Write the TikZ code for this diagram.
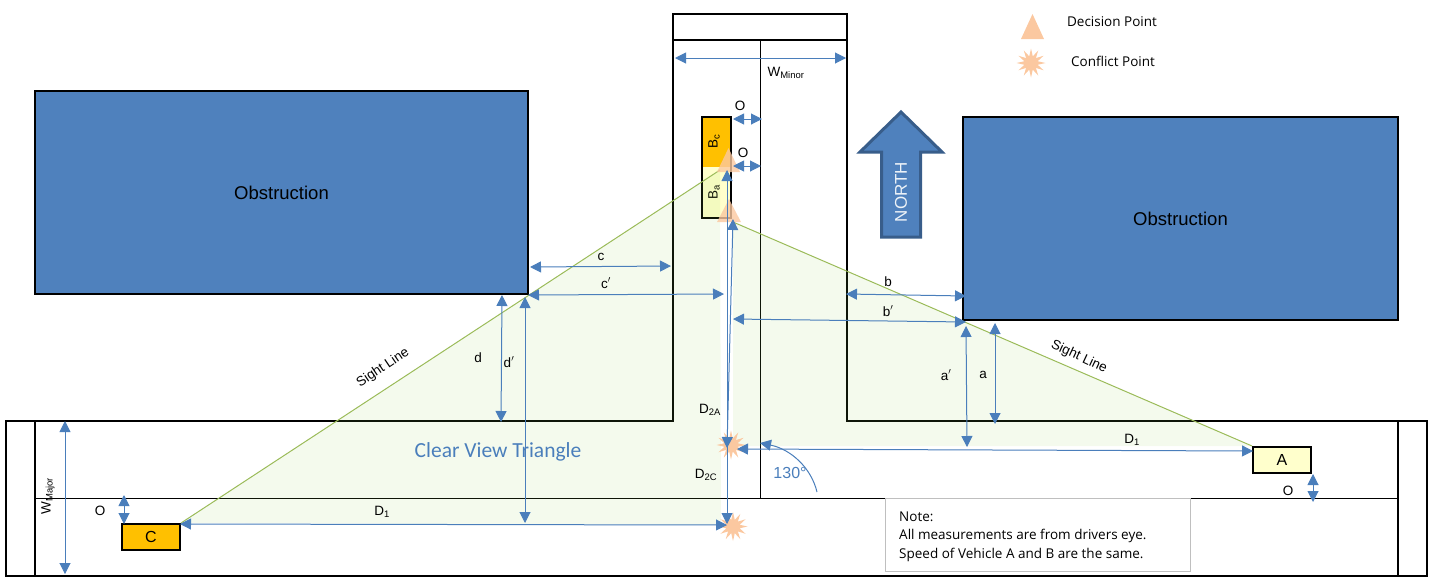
\documentclass[tikz,border=0pt]{standalone}
\usepackage{fontspec}
\setmainfont{Carlito}
\newfontfamily\legendfont{Open Sans}
\newfontfamily\arialfont{Liberation Sans}
\usetikzlibrary{arrows.meta,shapes.geometric}
\definecolor{obstblue}{HTML}{4F81BD}
\definecolor{obstedge}{HTML}{385D8A}
\definecolor{dimblue}{HTML}{4A7EBB}
\definecolor{sightgreen}{HTML}{9BBB59}
\definecolor{viewgreen}{HTML}{92D050}
\definecolor{peach}{HTML}{FBC8A0}
\definecolor{carorange}{HTML}{FFC000}
\definecolor{caryellow}{HTML}{FFFFCC}
\definecolor{notegray}{HTML}{BFBFBF}

\begin{document}
\begin{tikzpicture}[x=1pt,y=-1pt,
                    dim/.style={draw=dimblue,line width=1pt,{Triangle[length=11pt,width=11pt]}-{Triangle[length=11pt,width=11pt]}},
                    wall/.style={draw=black,line width=2pt},
                    centerline/.style={draw=black,line width=1pt}]
  \tikzstyle{obstruction}=[draw=black,line width=2pt,fill=obstblue,inner sep=0pt,font=\arialfont\fontsize{18.5}{20}\selectfont]
  \tikzstyle{vehicle}=[draw=black,line width=2pt,inner sep=0pt,minimum width=58pt,minimum height=26pt,font=\arialfont\fontsize{16}{18}\selectfont]
  \tikzstyle{busbox}=[inner sep=0pt,minimum width=29pt]
  \tikzstyle{lbl}=[inner sep=0pt,font=\arialfont\fontsize{13.5}{15}\selectfont]
  \tikzstyle{conflict}=[star,star points=12,star point ratio=2.1,fill=peach,inner sep=0pt,minimum size=29pt]
  \tikzstyle{decision}=[fill=peach,opacity=.8]
  \tikzstyle{sight}=[draw=sightgreen,line width=1pt]
  \useasboundingbox (0,0) rectangle (1429,582);

  % roads
  \draw[wall] (6,421) -- (673,421) -- (673,14) -- (847,14) -- (847,421) -- (1427,421)
              -- (1427,576) -- (6,576) -- cycle;
  \draw[wall] (673,40) -- (847,40);
  \draw[wall] (35,421) -- (35,576);
  \draw[wall] (1398,421) -- (1398,576);
  \draw[centerline] (760,40) -- (760,498);
  \draw[centerline] (35,498) -- (1398,498);

  \node[obstruction,minimum width=493pt,minimum height=203pt] (OL) at (281.5,192.5) {Obstruction}; 
  \node[obstruction,minimum width=435pt,minimum height=203pt] (OR) at (1180.5,218.5) {Obstruction}; 

  % bus
  \node[busbox,fill=carorange,minimum height=50pt] (Bc) at (716.5,142) {};
  \node[busbox,fill=caryellow,minimum height=51pt] (Ba) at (716.5,192.5) {};
  \draw[wall] (Bc.north west) rectangle (Ba.south east);
  \node[lbl,rotate=90] (BcText) at (714,141) {B\textsubscript{c}};
  \node[lbl,rotate=90] (BaText) at (714,192) {B\textsubscript{a}};

  \node[vehicle,fill=carorange] (C) at (151,537) {C};
  \node[vehicle,fill=caryellow] (A) at (1282,460) {A};

  % clear view triangle
  \fill[viewgreen,opacity=.1] (C.north east) -- (720,170) -- (721,525) -- cycle;
  \fill[viewgreen,opacity=.1] (733,222) -- (A.north west) -- (733,446) -- cycle;
  \draw[sight] (C.north east) -- (720,170);
  \draw[sight] (733,222) -- (A.north west);

  % decision and conflict points
  \fill[decision] (717,172) -- (728.5,148) -- (740,172) -- cycle;
  \fill[decision] (717,222) -- (729,199) -- (741,222) -- cycle;
  \fill[decision,opacity=1] (1021,39) -- (1032.5,14) -- (1044,39) -- cycle;
  \node[conflict] (X1) at (731,445) {};
  \node[conflict] (X2) at (733,526.5) {};
  \node[conflict] (X3) at (1031,63) {};

  % free ends of the dimensions
  \coordinate (wm1) at (675,58);   \coordinate (wm2) at (846,58);
  \coordinate (o1a) at (733,119);  \coordinate (o1b) at (762,119);
  \coordinate (o2a) at (733,166);  \coordinate (o2b) at (761,166);
  \coordinate (c1) at (530,267);   \coordinate (c2) at (671,266);
  \coordinate (cp1) at (528,295);  \coordinate (cp2) at (724,294);
  \coordinate (d1) at (502,295);   \coordinate (d2) at (501,422);
  \coordinate (dp1) at (525,297);  \coordinate (dp2) at (525,523);
  \coordinate (b1) at (846,294);   \coordinate (b2) at (966,296);
  \coordinate (bp1) at (733,319);  \coordinate (bp2) at (966,322);
  \coordinate (ap1) at (966,326);  \coordinate (ap2) at (967,447);
  \coordinate (a1) at (995,323);   \coordinate (a2) at (995,424);
  \coordinate (dr1) at (737,449);  \coordinate (dr2) at (1253,451);
  \coordinate (dl1) at (180,524);  \coordinate (dl2) at (727,525);
  \coordinate (da1) at (733,219);  \coordinate (da2) at (727,448);
  \coordinate (dc1) at (727,170);  \coordinate (dc2) at (727,524);
  \coordinate (oa1) at (1313,474); \coordinate (oa2) at (1313,502);
  \coordinate (oc1) at (124,495);  \coordinate (oc2) at (124,524);
  \coordinate (wj1) at (65,421);   \coordinate (wj2) at (65,574);
  \coordinate (ang1) at (817,492); \coordinate (ang2) at (760,443);

  \path (wm1) edge[dim] (wm2)
        (o1a) edge[dim] (o1b)
        (o2a) edge[dim] (o2b)
        (c1) edge[dim] (c2)
        (cp1) edge[dim] (cp2)
        (d1) edge[dim] (d2)
        (dp1) edge[dim] (dp2)
        (b1) edge[dim] (b2)
        (bp1) edge[dim] (bp2)
        (ap1) edge[dim] (ap2)
        (a1) edge[dim] (a2)
        (dr1) edge[dim] (dr2)
        (dl1) edge[dim] (dl2)
        (da1) edge[dim] (da2)
        (dc1) edge[dim] (dc2)
        (oa1) edge[dim] (oa2)
        (oc1) edge[dim] (oc2)
        (wj1) edge[dim] (wj2);
  \draw[draw=dimblue,line width=1pt,-{Triangle[length=11pt,width=11pt]}] (ang1) .. controls (811,467) and (790,449) .. (ang2);

  % labels
  \node[lbl] (LWm) at (786,73) {W\textsubscript{Minor}};
  \node[lbl] (LO1) at (740,106) {O};
  \node[lbl] (LO2) at (743,153) {O};
  \node[lbl] (Lc) at (601,257) {c};
  \node[lbl] (Lcp) at (606,283) {c$'$};
  \node[lbl] (Lb) at (888,282) {b};
  \node[lbl] (Lbp) at (888,311) {b$'$};
  \node[lbl] (Lap) at (946,375) {a$'$};
  \node[lbl] (La) at (983,375) {a};
  \node[lbl] (Ld) at (478,358) {d};
  \node[lbl] (Ldp) at (509,362) {d$'$};
  \node[lbl] (Lda) at (710,410) {D\textsubscript{2A}};
  \node[lbl] (Ldc) at (706,475) {D\textsubscript{2C}};
  \node[lbl] (Ldr) at (1132,440) {D\textsubscript{1}};
  \node[lbl] (Ldl) at (382,512) {D\textsubscript{1}};
  \node[lbl,rotate=90] (LWj) at (48,496) {W\textsubscript{Major}};
  \node[lbl] (LOc) at (100,511) {O};
  \node[lbl] (LOa) at (1288,491) {O};
  \node[lbl,rotate=34] (LS1) at (383,368) {Sight Line};
  \node[lbl,rotate=-25] (LS2) at (1079,357) {Sight Line};
  \node[lbl,text=dimblue,font=\fontsize{21.5}{23}\selectfont] (Clear) at (498,452) {Clear View Triangle};
  \node[lbl,text=dimblue,font=\arialfont\fontsize{16}{18}\selectfont] (Ang) at (790,473) {130°};

  % north arrow
  \draw[draw=obstedge,line width=3pt,fill=obstblue,miter limit=10]
    (901,112) -- (942,152) -- (920.5,152) -- (920.5,237) -- (881.5,237) -- (881.5,152) -- (860,152) -- cycle;
  \node[lbl,rotate=90,text=white!90!obstblue,font=\arialfont\fontsize{17}{19}\selectfont] (North) at (901,192) {NORTH};

  % legend
  \node[lbl,font=\legendfont\fontsize{13.5}{15}\selectfont] (LDec) at (1112,22) {Decision Point};
  \node[lbl,font=\legendfont\fontsize{13.5}{15}\selectfont] (LCon) at (1113,61) {Conflict Point};

  % note
  \node[draw=notegray,fill=white,line width=1pt,inner sep=0pt,minimum width=305pt,minimum height=73pt] (NoteBox) at (1037.5,534.5) {};
  \node[lbl,anchor=north west,align=left,font=\legendfont\fontsize{13.5}{18.5}\selectfont] (Note) at (899,511.5)
    {Note:\\All measurements are from drivers eye.\\Speed of Vehicle A and B are the same.};
\end{tikzpicture}
\end{document}
